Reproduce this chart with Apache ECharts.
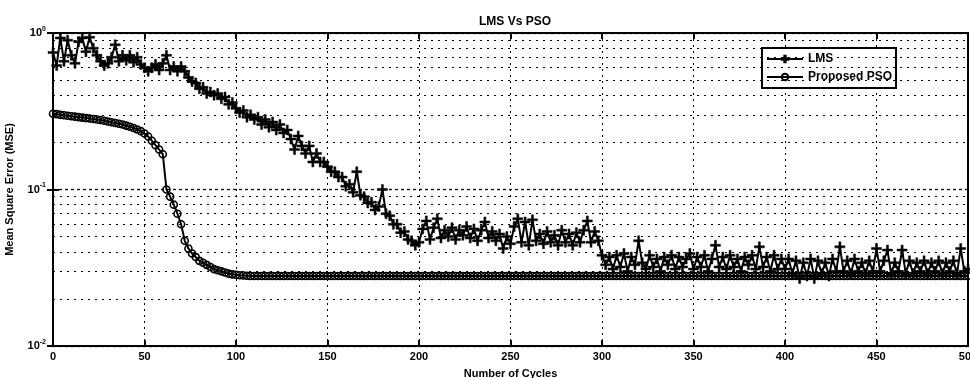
<!DOCTYPE html>
<html>
<head>
<meta charset="utf-8">
<script src="https://cdn.jsdelivr.net/npm/echarts@6/dist/echarts.min.js"></script>
<style>html,body{margin:0;padding:0;background:#fff}#c{width:970px;height:378px}</style>
</head>
<body>
<div id="c"></div>
<script>
// x positions: one sample every 2 cycles, 0..500
const cycleStep = 2;
const xTicks = [0, 50, 100, 150, 200, 250, 300, 350, 400, 450, 500];
const yMinorGrid = [0.02,0.03,0.04,0.05,0.06,0.07,0.08,0.09,0.2,0.3,0.4,0.5,0.6,0.7,0.8,0.9];

const lmsMSE = [
  0.75,0.62,0.93,0.66,0.90,0.72,0.64,0.88,0.93,0.76,0.94,0.80,0.72,0.66,0.62,0.64,0.70,0.84,0.66,0.72,0.67,0.72,0.65,0.70,0.63,
  0.60,0.57,0.60,0.63,0.58,0.64,0.72,0.58,0.61,0.57,0.61,0.57,0.52,0.49,0.48,0.44,0.45,0.41,0.42,0.40,0.41,0.38,0.39,0.35,0.36,
  0.33,0.31,0.32,0.29,0.30,0.28,0.29,0.26,0.28,0.25,0.27,0.24,0.26,0.23,0.24,0.21,0.18,0.22,0.19,0.17,0.19,0.15,0.17,0.15,0.15,
  0.14,0.13,0.13,0.12,0.12,0.105,0.108,0.096,0.13,0.092,0.09,0.082,0.083,0.074,0.078,0.10,0.07,0.068,0.06,0.06,0.053,0.054,0.048,0.047,0.044,
  0.046,0.056,0.063,0.048,0.057,0.065,0.049,0.055,0.050,0.057,0.048,0.055,0.051,0.058,0.049,0.056,0.047,0.055,0.062,0.049,0.054,0.047,0.052,0.042,0.050,
  0.045,0.058,0.065,0.046,0.062,0.044,0.064,0.047,0.052,0.045,0.054,0.046,0.051,0.044,0.055,0.046,0.052,0.044,0.053,0.046,0.055,0.063,0.046,0.054,0.047,
  0.038,0.033,0.037,0.031,0.038,0.032,0.039,0.030,0.037,0.033,0.047,0.034,0.031,0.038,0.032,0.036,0.030,0.037,0.033,0.038,0.031,0.037,0.032,0.036,0.039,
  0.031,0.037,0.032,0.038,0.030,0.036,0.044,0.032,0.037,0.031,0.038,0.032,0.036,0.030,0.037,0.033,0.038,0.031,0.043,0.032,0.037,0.030,0.038,0.031,0.036,
  0.031,0.036,0.029,0.035,0.027,0.034,0.028,0.036,0.027,0.035,0.029,0.034,0.028,0.036,0.030,0.043,0.030,0.035,0.029,0.036,0.030,0.034,0.029,0.035,0.030,
  0.042,0.030,0.035,0.041,0.029,0.034,0.030,0.041,0.029,0.035,0.029,0.034,0.030,0.035,0.029,0.034,0.030,0.035,0.029,0.034,0.030,0.035,0.029,0.042,0.030,
  0.031
];

const psoMSE = [
  0.305,0.303,0.300,0.298,0.296,0.294,0.292,0.290,0.288,0.286,0.284,0.282,0.280,0.278,0.275,0.272,0.269,0.266,0.263,0.260,0.256,0.252,0.247,0.242,0.236,
  0.228,0.218,0.205,0.192,0.180,0.168,0.100,0.090,0.080,0.070,0.060,0.047,0.042,0.039,0.037,0.035,0.034,0.033,0.032,0.031,0.0305,0.030,0.0295,0.029,0.0287,
  0.0285,0.0283,0.0282,0.0281,0.028,0.028,0.028,0.028,0.028,0.028,0.028,0.028,0.028,0.028,0.028,0.028,0.028,0.028,0.028,0.028,0.028,0.028,0.028,0.028,0.028,
  0.028,0.028,0.028,0.028,0.028,0.028,0.028,0.028,0.028,0.028,0.028,0.028,0.028,0.028,0.028,0.028,0.028,0.028,0.028,0.028,0.028,0.028,0.028,0.028,0.028,
  0.028,0.028,0.028,0.028,0.028,0.028,0.028,0.028,0.028,0.028,0.028,0.028,0.028,0.028,0.028,0.028,0.028,0.028,0.028,0.028,0.028,0.028,0.028,0.028,0.028,
  0.028,0.028,0.028,0.028,0.028,0.028,0.028,0.028,0.028,0.028,0.028,0.028,0.028,0.028,0.028,0.028,0.028,0.028,0.028,0.028,0.028,0.028,0.028,0.028,0.028,
  0.028,0.028,0.028,0.028,0.028,0.028,0.028,0.028,0.028,0.028,0.028,0.028,0.028,0.028,0.028,0.028,0.028,0.028,0.028,0.028,0.028,0.028,0.028,0.028,0.028,
  0.028,0.028,0.028,0.028,0.028,0.028,0.028,0.028,0.028,0.028,0.028,0.028,0.028,0.028,0.028,0.028,0.028,0.028,0.028,0.028,0.028,0.028,0.028,0.028,0.028,
  0.028,0.028,0.028,0.028,0.028,0.028,0.028,0.028,0.028,0.028,0.028,0.028,0.028,0.028,0.028,0.028,0.028,0.028,0.028,0.028,0.028,0.028,0.028,0.028,0.028,
  0.028,0.028,0.028,0.028,0.028,0.028,0.028,0.028,0.028,0.028,0.028,0.028,0.028,0.028,0.028,0.028,0.028,0.028,0.028,0.028,0.028,0.028,0.028,0.028,0.028,
  0.028
];

const FONT = '"Liberation Sans Narrow","Liberation Sans",Arial,sans-serif';
const pairs = arr => arr.map((v, i) => [i * cycleStep, v]);

const chart = echarts.init(document.getElementById('c'), null, {renderer: 'canvas'});
const plusPath = 'path://M4,0H6V4H10V6H6V10H4V6H0V4H4Z';

chart.setOption({
  animation: false,
  backgroundColor: '#fff',
  title: {
    text: 'LMS Vs PSO',
    left: 510, top: 11, textAlign: 'center',
    textStyle: {fontFamily: FONT, fontWeight: 'bold', fontSize: 12, color: '#000'}
  },
  legend: {
    data: ['LMS', 'Proposed PSO'],
    orient: 'vertical',
    left: 762, top: 48,
    itemWidth: 36, itemHeight: 8, itemGap: 6,
    padding: [5, 4, 5, 4],
    borderColor: '#000', borderWidth: 2, backgroundColor: '#fff',
    textStyle: {fontFamily: FONT, fontWeight: 'bold', fontSize: 12, color: '#000'}
  },
  grid: {left: 53, right: 2, top: 33, bottom: 32, outerBoundsMode: 'none', containLabel: false,
    show: true, borderColor: '#000', borderWidth: 2, backgroundColor: 'transparent'},
  xAxis: [{
    type: 'value', min: 0, max: 500, interval: 50,
    name: 'Number of Cycles', nameLocation: 'middle', nameGap: 22,
    nameTextStyle: {fontFamily: FONT, fontWeight: 'bold', fontSize: 11, color: '#000'},
    axisLine: {lineStyle: {color: '#000', width: 2}},
    axisTick: {inside: true, length: 6, lineStyle: {color: '#000', width: 2}},
    axisLabel: {fontFamily: FONT, fontWeight: 'bold', fontSize: 11, color: '#000', margin: 5,
      showMaxLabel: true, hideOverlap: false,
      formatter: v => xTicks.indexOf(v) >= 0 ? String(v) : ''},
    splitLine: {show: true, lineStyle: {color: '#000', type: [2, 4], width: 1}}
  }, {
    type: 'value', min: 0, max: 500, interval: 50, position: 'top',
    axisLine: {show: false}, axisLabel: {show: false}, splitLine: {show: false},
    axisTick: {inside: true, length: 6, lineStyle: {color: '#000', width: 2}}
  }],
  yAxis: [{
    type: 'log', logBase: 10, min: 0.01, max: 1,
    name: 'Mean Square Error (MSE)', nameLocation: 'middle', nameGap: 38, nameRotate: 90,
    nameMoveOverlap: false,
    nameTextStyle: {fontFamily: FONT, fontWeight: 'bold', fontSize: 11, color: '#000'},
    axisLine: {show: true, lineStyle: {color: '#000', width: 2}},
    axisTick: {inside: true, length: 6, lineStyle: {color: '#000', width: 2}},
    axisLabel: {
      margin: 7,
      formatter: v => '{b|10}{s|' + Math.round(Math.log10(v)) + '}',
      rich: {
        b: {fontFamily: FONT, fontWeight: 'bold', fontSize: 11, color: '#000'},
        s: {fontFamily: FONT, fontWeight: 'bold', fontSize: 7, color: '#000', padding: [0, 0, 8, 0]}
      }
    },
    splitLine: {show: true, lineStyle: {color: '#000', type: [3, 3], width: 1.3}}
  }, {
    type: 'log', logBase: 10, min: 0.01, max: 1, position: 'right',
    axisLine: {show: false}, axisLabel: {show: false}, splitLine: {show: false},
    axisTick: {inside: true, length: 6, lineStyle: {color: '#000', width: 2}}
  }],
  series: [{
    name: 'LMS', type: 'line', xAxisIndex: 0, yAxisIndex: 0,
    data: pairs(lmsMSE),
    symbol: plusPath, symbolSize: 10,
    lineStyle: {color: '#000', width: 2},
    itemStyle: {color: '#000', borderColor: '#000', borderWidth: 0.5},
    markLine: {
      silent: true, symbol: 'none', label: {show: false},
      lineStyle: {color: '#000', type: [2, 5], width: 1},
      data: yMinorGrid.map(v => ({yAxis: v}))
    }
  }, {
    name: 'Proposed PSO', type: 'line', xAxisIndex: 0, yAxisIndex: 0,
    data: pairs(psoMSE),
    symbol: 'circle', symbolSize: 7,
    lineStyle: {color: '#000', width: 2},
    itemStyle: {color: 'rgba(255,255,255,0)', borderColor: '#000', borderWidth: 1.6}
  }]
});
</script>
</body>
</html>
